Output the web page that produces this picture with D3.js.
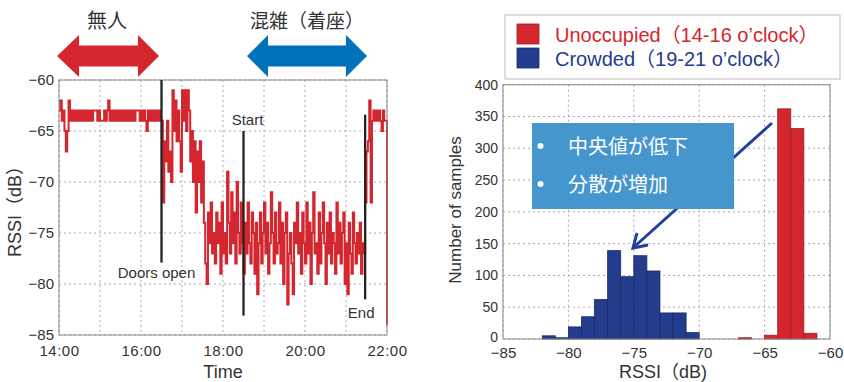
<!DOCTYPE html>
<html>
<head>
<meta charset="utf-8">
<script src="https://cdn.jsdelivr.net/npm/d3@7"></script>
<style>
  html, body { margin: 0; padding: 0; background: #fff; }
  svg { display: block; }
  text { font-family: "Liberation Sans", Arial, "Noto Sans CJK JP", sans-serif; fill: #333; }
  .cjk { font-family: "Noto Sans CJK JP", sans-serif; }
</style>
</head>
<body>
<svg id="chart" width="844" height="382"></svg>
<script>
// ---------------- DATA ----------------
// Left chart: RSSI time series, one sample every 2 minutes from 14:00 to 22:00
const sampleStartMin = 0;          // minutes after 14:00
const sampleIntervalMin = 2;
const rssiSeries = [
  -63,-62,-64,-63,-65,-67,-65,-62,-64,-63,
  -64,-63,-64,-63,-64,-63,-64,-63,-64,-63,
  -64,-63,-64,-63,-64,-63,-63,-63,-64,-63,
  -64,-64,-64,-63,-64,-63,-62,-64,-63,-64,
  -63,-64,-63,-64,-63,-64,-63,-64,-63,-64,
  -63,-64,-63,-64,-63,-64,-63,-63,-63,-64,
  -63,-64,-63,-64,-65,-63,-64,-63,-64,-63,
  -64,-63,-64,-63,-64,
  -64,-72,-66,-68,-64,-69,-67,-70,-61,-65,
  -62,-66,-63,-66,-69,-61,-64,-61,-65,-61,
  -63,-68,-65,-70,-66,-73,-67,-70,-66,-72,
  -68,
  -74,-78,-80,-73,-76,-72,-77,-75,-78,-73,
  -76,-74,-79,-72,-77,-75,-78,-69,-74,-77,
  -71,-76,-73,-78,-70,-75,-77,-72,-76,-79,
  -74,-77,-72,-76,-78,-73,-75,-79,-74,-81,
  -76,-73,-78,-75,-72,-77,-74,-79,-76,-71,
  -75,-78,-73,-77,-76,-72,-78,-74,-80,-75,
  -73,-82,-77,-75,-78,-81,-74,-76,-72,-77,
  -75,-79,-73,-76,-78,-72,-77,-74,-80,-75,
  -71,-77,-76,-79,-73,-78,-75,-72,-76,-80,
  -74,-77,-73,-78,-75,-76,-79,-72,-77,-74,
  -78,-75,-73,-80,-76,-81,-74,-77,-79,-73,
  -76,-78,-75,-77,-74,-79,-76,-77,-72,-67,
  -66,-62,-72,-64,-63,-64,-63,-64,-63,-64,
  -65,-63,-64,-64,-84
];
const timeTicks = [0, 120, 240, 360, 480];           // 14:00 .. 22:00
const timeTickLabels = ["14:00", "16:00", "18:00", "20:00", "22:00"];
const timeGrid = [0, 60, 120, 180, 240, 300, 360, 420, 480];
const rssiTicks = [-60, -65, -70, -75, -80, -85];

// event markers
const eventLabels = ["Doors open", "Start", "End"];
const eventTimes  = [150, 270, 448];     // minutes after 14:00
const eventTop    = [-60, -65, -63.4];
const eventBottom = [-77.9, -83.1, -81.5];

// Right chart: histograms (1 dB bins, lower edge)
const crowdedBinStart = [-82, -81, -80, -79, -78, -77, -76, -75, -74, -73, -72, -71];
const crowdedCounts   = [  5,   2,  19,  35,  62, 139,  98, 131, 107,  41,  41,  10];
const unoccBinStart   = [-67, -65, -64, -63, -62];
const unoccCounts     = [  2,   6, 362, 331,   9];
const histXTicks = [-85, -80, -75, -70, -65, -60];
const histYTicks = [0, 50, 100, 150, 200, 250, 300, 350, 400];

const legendLabels = ["Unoccupied（14-16 o’clock）", "Crowded（19-21 o’clock）"];
const calloutLines = ["中央値が低下", "分散が増加"];
const titleLeft = "無人";
const titleRight = "混雑（着座）";

// ---------------- DRAW ----------------
const RED = "#d3262e", BLUE = "#243c8c", ARROWBLUE = "#0071bb";
const svg = d3.select("#chart");
const minus = d => (d < 0 ? "\u2212" : "") + Math.abs(d);

// ===== Left chart =====
const L = {left: 59, right: 387, top: 80, bottom: 335};
const x = d3.scaleLinear().domain([0, 480]).range([L.left, L.right]);
const y = d3.scaleLinear().domain([-85, -60]).range([L.bottom, L.top]);

const gL = svg.append("g");
// grid
gL.selectAll("line.vg").data(timeGrid).join("line")
  .attr("x1", d => x(d)).attr("x2", d => x(d)).attr("y1", L.top).attr("y2", L.bottom)
  .attr("stroke", "#aaa").attr("stroke-dasharray", "2,3").attr("stroke-width", 1);
gL.selectAll("line.hg").data(rssiTicks).join("line")
  .attr("x1", L.left).attr("x2", L.right).attr("y1", d => y(d)).attr("y2", d => y(d))
  .attr("stroke", "#aaa").attr("stroke-dasharray", "2,3").attr("stroke-width", 1);

// series
const line = d3.line()
  .curve(d3.curveStepAfter)
  .x((d, i) => x(sampleStartMin + i * sampleIntervalMin))
  .y(d => y(d));
gL.append("path").datum(rssiSeries).attr("d", line)
  .attr("fill", "none").attr("stroke", RED).attr("stroke-width", 2.0);

// frame
gL.append("rect").attr("x", L.left).attr("y", L.top)
  .attr("width", L.right - L.left).attr("height", L.bottom - L.top)
  .attr("fill", "none").attr("stroke", "#888").attr("stroke-width", 1);

// event lines
gL.selectAll("line.ev").data(eventTimes).join("line")
  .attr("x1", d => x(d)).attr("x2", d => x(d))
  .attr("y1", (d, i) => y(eventTop[i])).attr("y2", (d, i) => y(eventBottom[i]))
  .attr("stroke", "#222").attr("stroke-width", 2.3);
const evLabelPos = [
  {dx: -5, y: 278}, {dx: 4, y: 125}, {dx: -4, y: 318}
];
gL.selectAll("text.ev").data(eventLabels).join("text")
  .attr("x", (d, i) => x(eventTimes[i]) + evLabelPos[i].dx)
  .attr("y", (d, i) => evLabelPos[i].y)
  .attr("text-anchor", "middle").attr("font-size", 15).text(d => d);

// axes
const axL = d3.axisLeft(y).tickValues(rssiTicks).tickSize(0).tickPadding(5).tickFormat(minus);
gL.append("g").attr("transform", `translate(${L.left},0)`).call(axL)
  .call(g => g.select(".domain").remove())
  .selectAll("text").attr("font-size", 15).attr("fill", "#333")
  .style("font-family", "Liberation Sans, Arial, sans-serif");
const axB = d3.axisBottom(x).tickValues(timeTicks).tickSize(0).tickPadding(10)
  .tickFormat((d, i) => timeTickLabels[i]);
gL.append("g").attr("transform", `translate(0,${L.bottom})`).call(axB)
  .call(g => g.select(".domain").remove())
  .selectAll("text").attr("font-size", 15).attr("fill", "#333").attr("letter-spacing", 0.5)
  .style("font-family", "Liberation Sans, Arial, sans-serif");
gL.append("text").attr("x", (L.left + L.right) / 2).attr("y", 378)
  .attr("text-anchor", "middle").attr("font-size", 18).text("Time");
gL.append("text").attr("transform", "translate(21,207) rotate(-90)")
  .attr("text-anchor", "middle").attr("font-size", 18).text("RSSI（dB）");

// title arrows
function dblArrow(x0, x1, xb0, xb1, cy, headH, shaftH, color) {
  const p = [
    [x0, cy], [xb0, cy - headH], [xb0, cy - shaftH], [xb1, cy - shaftH], [xb1, cy - headH],
    [x1, cy], [xb1, cy + headH], [xb1, cy + shaftH], [xb0, cy + shaftH], [xb0, cy + headH]
  ];
  svg.append("path").attr("d", "M" + p.map(q => q.join(",")).join("L") + "Z").attr("fill", color);
}
dblArrow(57, 159, 79, 138, 56, 21, 10.5, RED);
dblArrow(247, 367, 268, 346, 56, 21, 10.5, ARROWBLUE);
svg.append("text").attr("class", "cjk").attr("x", 107).attr("y", 28)
  .attr("text-anchor", "middle").attr("font-size", 20).text(titleLeft);
svg.append("text").attr("class", "cjk").attr("x", 307).attr("y", 28)
  .attr("text-anchor", "middle").attr("font-size", 19).text(titleRight);

// ===== Right chart =====
const R = {left: 503, right: 830, top: 84.7, bottom: 339};
const xh = d3.scaleLinear().domain([-85, -60]).range([R.left, R.right]);
const yh = d3.scaleLinear().domain([0, 400]).range([R.bottom, R.top]);
const gR = svg.append("g");
gR.selectAll("line.vg").data(histXTicks).join("line")
  .attr("x1", d => xh(d)).attr("x2", d => xh(d)).attr("y1", R.top).attr("y2", R.bottom)
  .attr("stroke", "#aaa").attr("stroke-dasharray", "2,3");
gR.selectAll("line.hg").data(histYTicks).join("line")
  .attr("x1", R.left).attr("x2", R.right).attr("y1", d => yh(d)).attr("y2", d => yh(d))
  .attr("stroke", "#aaa").attr("stroke-dasharray", "2,3");

gR.selectAll("rect.cb").data(crowdedCounts).join("rect")
  .attr("x", (d, i) => xh(crowdedBinStart[i])).attr("width", (d, i) => xh(crowdedBinStart[i] + 1) - xh(crowdedBinStart[i]))
  .attr("y", d => yh(d)).attr("height", d => yh(0) - yh(d))
  .attr("fill", BLUE).attr("stroke", "#1a2b66").attr("stroke-width", 0.8);
gR.selectAll("rect.ub").data(unoccCounts).join("rect")
  .attr("x", (d, i) => xh(unoccBinStart[i])).attr("width", (d, i) => xh(unoccBinStart[i] + 1) - xh(unoccBinStart[i]))
  .attr("y", d => yh(d)).attr("height", d => yh(0) - yh(d))
  .attr("fill", RED).attr("stroke", "#9e1c22").attr("stroke-width", 0.8);

gR.append("rect").attr("x", R.left).attr("y", R.top)
  .attr("width", R.right - R.left).attr("height", R.bottom - R.top)
  .attr("fill", "none").attr("stroke", "#888");

const axRL = d3.axisLeft(yh).tickValues(histYTicks).tickSize(0).tickPadding(5);
gR.append("g").attr("transform", `translate(${R.left},0)`).call(axRL)
  .call(g => g.select(".domain").remove())
  .selectAll("text").attr("font-size", 14).attr("fill", "#333")
  .attr("dy", (d) => d === 0 ? "0.2em" : "0.32em")
  .style("font-family", "Liberation Sans, Arial, sans-serif");
const axRB = d3.axisBottom(xh).tickValues(histXTicks).tickSize(0).tickPadding(8).tickFormat(minus);
gR.append("g").attr("transform", `translate(0,${R.bottom})`).call(axRB)
  .call(g => g.select(".domain").remove())
  .selectAll("text").attr("font-size", 15).attr("fill", "#333")
  .style("font-family", "Liberation Sans, Arial, sans-serif");
gR.append("text").attr("x", 663).attr("y", 378).attr("text-anchor", "middle")
  .attr("font-size", 18).text("RSSI（dB)");
gR.append("text").attr("transform", "translate(461,210) rotate(-90)")
  .attr("text-anchor", "middle").attr("font-size", 17).text("Number of samples");

// legend
const lg = svg.append("g");
lg.append("rect").attr("x", 505).attr("y", 15).attr("width", 335).attr("height", 64)
  .attr("fill", "#fff").attr("stroke", "#bbb");
const legColors = [RED, BLUE];
legendLabels.forEach((t, i) => {
  lg.append("rect").attr("x", 517).attr("y", 24 + i * 24).attr("width", 22).attr("height", 20)
    .attr("fill", legColors[i]).attr("stroke", i ? "#1a2b66" : "#9e1c22").attr("stroke-width", 0.8);
  lg.append("text").attr("x", 555).attr("y", 41.5 + i * 24.5).attr("font-size", 20)
    .style("fill", legColors[i]).text(t);
});

// callout arrow (behind box)
const ca = svg.append("g");
ca.append("line").attr("x1", 772).attr("y1", 123).attr("x2", 634).attr("y2", 247)
  .attr("stroke", "#22409a").attr("stroke-width", 3);
ca.append("path").attr("d", "M637,233 L633,248 L648,245")
  .attr("fill", "none").attr("stroke", "#22409a").attr("stroke-width", 3).attr("stroke-linejoin", "miter");
ca.append("rect").attr("x", 532).attr("y", 123).attr("width", 202).attr("height", 86)
  .attr("fill", "#4496cd");
calloutLines.forEach((t, i) => {
  ca.append("circle").attr("cx", 540.5).attr("cy", 146 + i * 38).attr("r", 3).attr("fill", "#fff");
  ca.append("text").attr("class", "cjk").attr("x", 568).attr("y", 153.5 + i * 38)
    .attr("font-size", 20).style("fill", "#fff").text(t);
});
</script>
</body>
</html>
